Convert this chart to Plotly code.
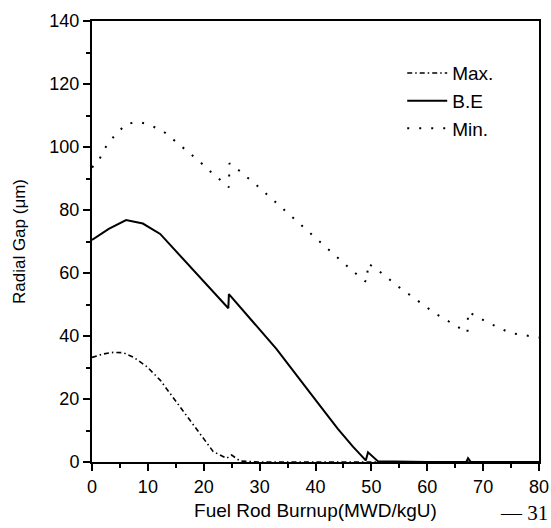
import plotly.graph_objects as go

# Data
max_x = [0, 2, 3.8, 5.6, 7.5, 9.8, 12.2, 15.7, 19.3, 21.7, 24.1, 25.0, 26.5, 30, 80]
max_y = [33.2, 34.3, 34.8, 34.7, 33.2, 30.3, 26.0, 17.6, 9.0, 3.3, 1.2, 2.2, 0.3, 0, 0]

be_x = [0, 3, 6.1, 9.1, 12.2, 16.3, 20, 24.4, 24.5, 28, 33, 40, 44, 46.7, 49.0, 49.4, 51.2, 60, 67.0, 67.3, 67.8, 80]
be_y = [70.5, 74.0, 76.8, 75.7, 72.4, 64.4, 57.3, 48.8, 53.3, 46.1, 35.9, 19.7, 10.5, 4.9, 0.5, 3.1, 0.2, 0, 0, 1.2, 0, 0]

min_x = [0, 1.3, 2.3, 3.9, 6.1, 8.3, 10.4, 12.8, 14.8, 17.1, 19.3, 21.4, 23.7, 24.5, 24.6,
         25.9, 26.9, 29.2, 31.4, 33.6, 37.9, 42.3, 46.6, 48.8, 49.2, 49.4, 51.5, 54.8, 58.1,
         61.4, 64.6, 66.8, 67.2, 67.3, 70.6, 74.8, 80]
min_y = [93.5, 96.0, 99.6, 103.3, 107.3, 108.0, 107.0, 104.9, 102.0, 98.7, 95.3, 91.9, 88.5, 87.2, 94.8,
         93.2, 91.6, 88.3, 84.8, 81.3, 74.5, 67.6, 60.7, 57.5, 57.2, 63.1, 60.4, 55.7, 51.4,
         47.2, 43.8, 41.4, 41.0, 47.7, 44.5, 41.0, 39.5]

x_ticks = [0, 10, 20, 30, 40, 50, 60, 70, 80]
y_ticks = [0, 20, 40, 60, 80, 100, 120, 140]

FONT = "Arial, Liberation Sans, sans-serif"

fig = go.Figure()
fig.add_trace(go.Scatter(x=max_x, y=max_y, mode="lines", name="Max.",
                         line=dict(color="black", width=1.6, dash="5px,3px,1.5px,3px")))
fig.add_trace(go.Scatter(x=be_x, y=be_y, mode="lines", name="B.E",
                         line=dict(color="black", width=2)))
fig.add_trace(go.Scatter(x=min_x, y=min_y, mode="lines", name="Min.",
                         line=dict(color="black", width=2, dash="2px,10px")))

axis_common = dict(showgrid=False, zeroline=False, showline=True, linecolor="black",
                   linewidth=2, mirror=True, ticks="outside", ticklen=7, tickwidth=2,
                   tickcolor="black", automargin=False,
                   tickfont=dict(family=FONT, size=18, color="black"))

fig.update_xaxes(range=[0, 80], tickvals=x_ticks,
                 minor=dict(dtick=5, ticks="outside", ticklen=4, tickwidth=1.5, tickcolor="black"),
                 title=dict(text="Fuel Rod Burnup(MWD/kgU)", font=dict(family=FONT, size=19, color="black"),
                            standoff=8),
                 **axis_common)
fig.update_yaxes(range=[0, 140], tickvals=y_ticks,
                 minor=dict(dtick=10, ticks="outside", ticklen=4, tickwidth=1.5, tickcolor="black"),
                 title=dict(text="Radial Gap (μm)", font=dict(family=FONT, size=17, color="black"),
                            standoff=19),
                 **axis_common)

fig.update_layout(
    width=551, height=528,
    margin=dict(l=92, r=12, t=21, b=66),
    paper_bgcolor="white", plot_bgcolor="white",
    showlegend=True,
    legend=dict(x=0.694, y=0.925, xanchor="left", yanchor="top",
                font=dict(family=FONT, size=19, color="black"),
                bgcolor="rgba(0,0,0,0)", tracegroupgap=4, itemwidth=40),
    annotations=[dict(text="— 31", xref="paper", yref="paper", x=1.025, y=-0.147,
                      xanchor="right", yanchor="bottom", showarrow=False,
                      font=dict(family="Liberation Serif, Times New Roman, serif", size=21, color="black"))],
)

fig.write_html("out.html")
